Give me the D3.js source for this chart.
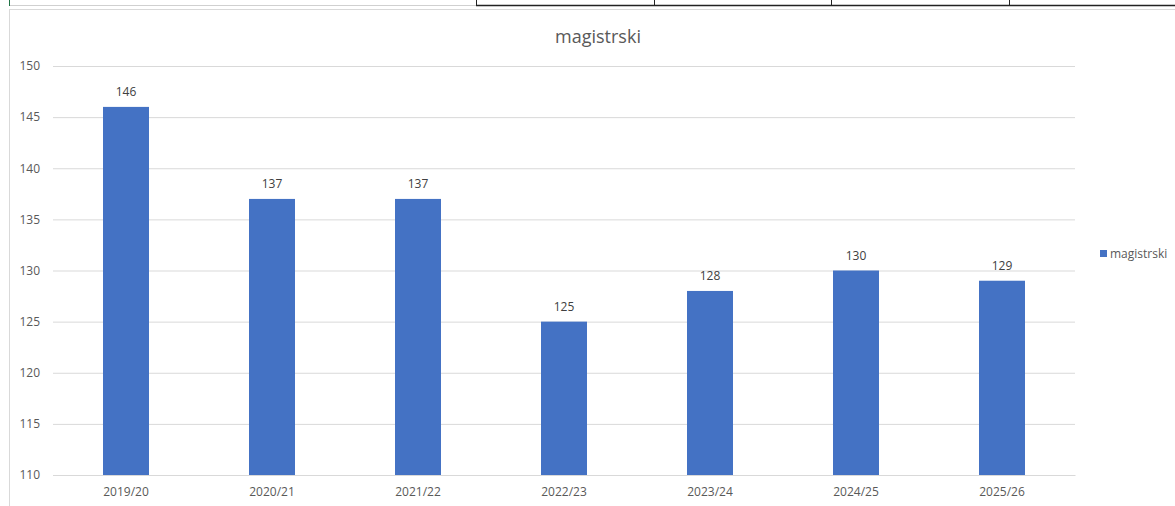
<!DOCTYPE html>
<html>
<head>
<meta charset="utf-8">
<script src="https://cdn.jsdelivr.net/npm/d3@7"></script>
<style>
  html, body { margin: 0; padding: 0; background: #fff; }
  svg { display: block; font-family: "Open Sans", "Noto Sans", sans-serif; }
</style>
</head>
<body>
<svg id="chart" width="1175" height="506"></svg>
<script>
const categories = ["2019/20", "2020/21", "2021/22", "2022/23", "2023/24", "2024/25", "2025/26"];
const values = [146, 137, 137, 125, 128, 130, 129];
const yTicks = [110, 115, 120, 125, 130, 135, 140, 145, 150];
const seriesName = "magistrski";
const chartTitle = "magistrski";

const svg = d3.select("#chart");

// spreadsheet strip above chart
const strip = svg.append("g");
strip.append("rect").attr("x", 0).attr("y", 0).attr("width", 1175).attr("height", 9).attr("fill", "#fff");
strip.append("text").attr("x", 104).attr("y", -6).attr("font-size", 17).attr("font-weight", "bold")
  .attr("fill", "#222").text("g");
strip.append("line").attr("x1", 10).attr("x2", 476).attr("y1", 5.5).attr("y2", 5.5)
  .attr("stroke", "#d0d0d0").attr("stroke-width", 1);
strip.append("line").attr("x1", 476).attr("x2", 1175).attr("y1", 5.5).attr("y2", 5.5)
  .attr("stroke", "#222").attr("stroke-width", 1.5);
[476, 654, 831, 1009].forEach(x => {
  strip.append("line").attr("x1", x + 0.5).attr("x2", x + 0.5).attr("y1", 0).attr("y2", 6)
    .attr("stroke", "#222").attr("stroke-width", 1);
});
strip.append("line").attr("x1", 9.5).attr("x2", 9.5).attr("y1", 0).attr("y2", 6)
  .attr("stroke", "#217346").attr("stroke-width", 1);

// chart area border
svg.append("line").attr("x1", 9).attr("x2", 1175).attr("y1", 9.5).attr("y2", 9.5)
  .attr("stroke", "#d9d9d9");
svg.append("line").attr("x1", 9.5).attr("x2", 9.5).attr("y1", 9).attr("y2", 506)
  .attr("stroke", "#d9d9d9");

const plotLeft = 53, plotRight = 1075, plotTop = 66, plotBottom = 475;

const x = d3.scaleBand().domain(categories).range([plotLeft, plotRight]).paddingInner(0.685).paddingOuter(0.3425);
const y = d3.scaleLinear().domain([110, 150]).range([plotBottom, plotTop]);

// gridlines
const yAxis = d3.axisLeft(y).tickValues(yTicks).tickSize(-(plotRight - plotLeft)).tickPadding(13);
const gy = svg.append("g").attr("transform", `translate(${plotLeft},0)`).call(yAxis);
gy.select(".domain").remove();
gy.selectAll(".tick line").attr("stroke", "#d9d9d9").attr("stroke-width", 1);
gy.selectAll(".tick text").attr("fill", "#595959").attr("font-size", 12)
  .attr("font-family", "'Open Sans', sans-serif");

// bars
svg.append("g").selectAll("rect").data(values).join("rect")
  .attr("x", (d, i) => x(categories[i]))
  .attr("y", d => y(d))
  .attr("width", x.bandwidth())
  .attr("height", d => plotBottom - y(d))
  .attr("fill", "#4472C4");

// data labels
svg.append("g").selectAll("text").data(values).join("text")
  .attr("x", (d, i) => x(categories[i]) + x.bandwidth() / 2)
  .attr("y", d => y(d) - 11)
  .attr("text-anchor", "middle")
  .attr("font-size", 12)
  .attr("fill", "#404040")
  .text(d => d);

// x axis
const xAxis = d3.axisBottom(x).tickSize(0).tickPadding(12);
const gx = svg.append("g").attr("transform", `translate(0,${plotBottom})`).call(xAxis);
gx.select(".domain").attr("stroke", "#d9d9d9");
gx.selectAll(".tick text").attr("fill", "#595959").attr("font-size", 12)
  .attr("font-family", "'Open Sans', sans-serif");

// title
svg.append("text").attr("x", 598).attr("y", 43).attr("text-anchor", "middle")
  .attr("font-size", 18).attr("fill", "#595959").text(chartTitle);

// legend
const lg = svg.append("g").attr("transform", "translate(1100,254)");
lg.append("rect").attr("x", 0).attr("y", -4).attr("width", 7).attr("height", 7).attr("fill", "#4472C4");
lg.append("text").attr("x", 10).attr("y", 4).attr("font-size", 12).attr("fill", "#595959").text(seriesName);
</script>
</body>
</html>
